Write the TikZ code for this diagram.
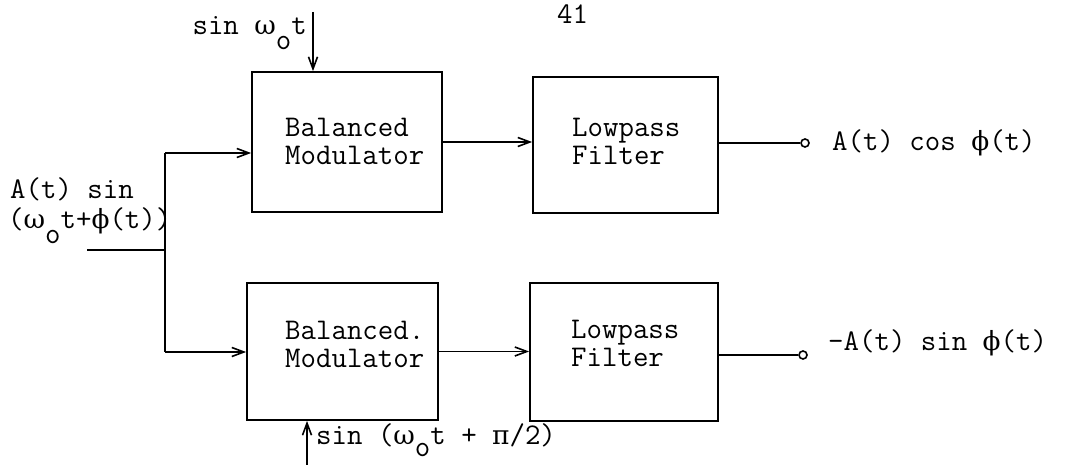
\documentclass[tikz,border=0pt]{standalone}
\usepackage{fontspec}
\newfontfamily\gk[Scale=0.88]{DejaVu Serif}
\usetikzlibrary{arrows.meta}
\newcommand\sbo{\raisebox{-0.5em}{o}}
\newcommand\gw{{\gk ω}}
\newcommand\gf{{\gk ϕ}}
\newcommand\gp{{\gk π}}
\begin{document}
\begin{tikzpicture}[x=1pt,y=-1pt,
  every node/.style={font=\ttfamily\fontsize{30}{28}\selectfont},
  blk/.style={draw,line width=1.8pt,minimum width=#1,inner sep=0pt},
  wire/.style={line width=1.8pt},
  arr/.style={line width=1.8pt,-{Straight Barb[length=12pt,width=9pt,line width=1.6pt]}},
  txt/.style={inner sep=0pt,align=left},
  term/.style={circle,draw,line width=1.6pt,fill=white,inner sep=0pt,minimum size=8pt}]
\useasboundingbox (0,0) rectangle (1075,465);
% blocks
\node[blk=190pt,minimum height=140pt] (bm1) at (347,142) {};
\node[blk=185pt,minimum height=136pt] (lp1) at (625.5,145) {};
\node[blk=191pt,minimum height=137pt] (bm2) at (342.5,351.5) {};
\node[blk=188pt,minimum height=138pt] (lp2) at (624,352) {};
% block texts
\node[txt,anchor=west] (bm1t) at (285,141) {Balanced\\Modulator};
\node[txt,anchor=west] (lp1t) at (572,141) {Lowpass\\Filter};
\node[txt,anchor=west] (bm2t) at (285,344) {Balanced.\\Modulator};
\node[txt,anchor=west] (lp2t) at (571,343) {Lowpass\\Filter};
% page number
\node[txt,anchor=base west] (pg) at (557,24) {41};
% input
\coordinate (in) at (87,250);
\coordinate (jin) at (165,250);
\coordinate (j1) at (165,153);
\coordinate (j2) at (165,352);
\node[txt,anchor=base west] (inl1) at (10,198) {A(t) sin};
\node[txt,anchor=base west] (inl2) at (8,228) {(\gw\sbo t+\gf(t))};
\draw[wire] (in) -- (jin);
\draw[wire] (j1) -- (j2);
\draw[arr] (j1) -- (j1 -| bm1.west);
\draw[arr] (j2) -- (j2 -| bm2.west);
% carriers
\coordinate (c1) at (313,12);
\coordinate (c2) at (307,466);
\draw[arr] (c1) -- (c1 |- bm1.north);
\draw[arr] (c2) -- (c2 |- bm2.south);
\node[txt,anchor=base east] (c1t) at (307,35) {sin \gw\sbo t};
\node[txt,anchor=base west] (c2t) at (316,444) {sin (\gw\raisebox{-0.4em}{o}t + \gp/2)};
% between blocks
\draw[arr] (bm1.east) -- (bm1.east -| lp1.west);
\draw[arr] (bm2.east) -- (bm2.east -| lp2.west);
% outputs
\node[term] (o1) at (805,143) {};
\node[term] (o2) at (803,355) {};
\draw[wire] (o1.west -| lp1.east) -- (o1.west);
\draw[wire] (o2.west -| lp2.east) -- (o2.west);
\node[txt,anchor=base west] (out1) at (832,151) {A(t) cos \gf(t)};
\node[txt,anchor=base west] (out2) at (828,350) {-A(t) sin \gf(t)};
\end{tikzpicture}
\end{document}
